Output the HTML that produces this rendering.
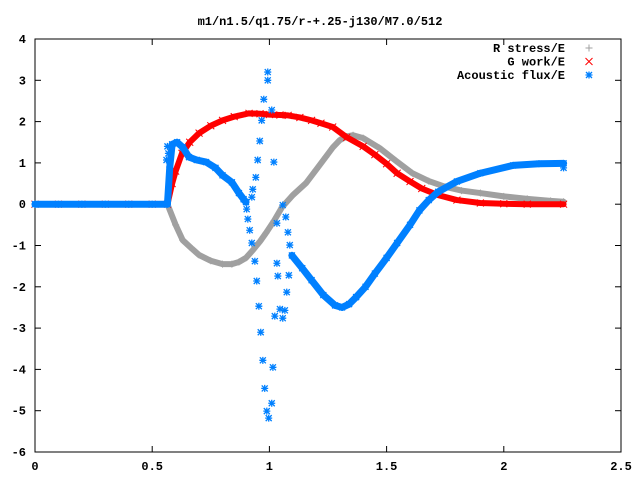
<!DOCTYPE html>
<html><head><meta charset="utf-8"><style>
html,body{margin:0;padding:0;background:#fff;}
svg{display:block;}
text{font-family:"Liberation Mono",monospace;font-weight:bold;font-size:12px;fill:#000;}
</style></head><body>
<svg id="chart" width="640" height="480" xmlns="http://www.w3.org/2000/svg">
<text x="320" y="25" text-anchor="middle">m1/n1.5/q1.75/r-+.25-j130/M7.0/512</text>
<g id="axes"></g>
<g id="series"></g>
<g id="legend"></g>
</svg>
<script>
const xTicks = [0, 0.5, 1, 1.5, 2, 2.5];
const xTickLabels = ["0", "0.5", "1", "1.5", "2", "2.5"];
const yTicks = [-6, -5, -4, -3, -2, -1, 0, 1, 2, 3, 4];
const yTickLabels = ["-6", "-5", "-4", "-3", "-2", "-1", "0", "1", "2", "3", "4"];

const rStressX = [0, 0.1, 0.2, 0.3, 0.4, 0.5, 0.565, 0.6, 0.63, 0.67, 0.7, 0.75, 0.8, 0.84, 0.87, 0.9, 0.93, 0.96, 0.985, 1.02, 1.054, 1.1, 1.156, 1.2, 1.24, 1.27, 1.3, 1.33, 1.357, 1.4, 1.47, 1.54, 1.61, 1.68, 1.75, 1.82, 1.9, 2.0, 2.1, 2.2, 2.255];
const rStressY = [0, 0, 0, 0, 0, 0, 0, -0.5, -0.87, -1.08, -1.23, -1.37, -1.45, -1.45, -1.4, -1.3, -1.11, -0.9, -0.7, -0.4, -0.07, 0.22, 0.51, 0.84, 1.14, 1.37, 1.55, 1.64, 1.67, 1.6, 1.36, 1.05, 0.75, 0.56, 0.42, 0.33, 0.27, 0.19, 0.13, 0.08, 0.06];

const gWorkX = [0, 0.1, 0.2, 0.3, 0.4, 0.5, 0.565, 0.585, 0.6, 0.627, 0.66, 0.7, 0.75, 0.8, 0.85, 0.913, 0.96, 1.0, 1.045, 1.08, 1.13, 1.18, 1.22, 1.27, 1.33, 1.4, 1.45, 1.5, 1.545, 1.6, 1.65, 1.72, 1.8, 1.9, 2.0, 2.1, 2.255];
const gWorkY = [0, 0, 0, 0, 0, 0, 0, 0.5, 0.8, 1.23, 1.5, 1.72, 1.9, 2.03, 2.12, 2.2, 2.19, 2.17, 2.16, 2.15, 2.1, 2.03, 1.96, 1.87, 1.62, 1.4, 1.2, 0.98, 0.75, 0.55, 0.38, 0.22, 0.1, 0.03, 0.01, 0.0, 0.0];

const fluxX = [0, 0.1, 0.2, 0.3, 0.4, 0.5, 0.565, 0.575, 0.585, 0.606, 0.63, 0.657, 0.69, 0.73, 0.77, 0.8, 0.84, 0.87, 0.89, 0.9];
const fluxY = [0, 0, 0, 0, 0, 0, 0, 0.9, 1.45, 1.5, 1.38, 1.14, 1.07, 1.02, 0.88, 0.7, 0.53, 0.27, 0.12, 0.05];
const fluxX2 = [1.096, 1.14, 1.18, 1.23, 1.28, 1.31, 1.34, 1.37, 1.41, 1.45, 1.5, 1.545, 1.6, 1.64, 1.68, 1.72, 1.8, 1.9, 2.04, 2.15, 2.255];
const fluxY2 = [-1.24, -1.55, -1.84, -2.2, -2.45, -2.5, -2.42, -2.25, -2.0, -1.68, -1.3, -0.94, -0.5, -0.15, 0.1, 0.3, 0.55, 0.75, 0.94, 0.98, 0.99];
const fluxScatterX = [0.993, 0.993, 0.976, 1.010, 0.967, 0.959, 0.950, 1.019, 0.942, 0.929, 0.925, 0.903, 0.908, 0.916, 0.925, 1.057, 1.070, 1.032, 1.079, 1.087, 0.938, 1.032, 0.946, 1.036, 1.083, 1.074, 0.955, 1.045, 1.066, 1.023, 1.057, 0.963, 0.972, 1.015, 0.980, 1.010, 0.989, 0.997, 0.565, 0.569, 0.561, 2.255];
const fluxScatterY = [3.20, 3.00, 2.54, 2.28, 2.03, 1.53, 1.07, 1.02, 0.65, 0.36, 0.17, -0.12, -0.36, -0.63, -0.94, -0.02, -0.31, -0.46, -0.68, -0.99, -1.38, -1.43, -1.86, -1.74, -1.72, -2.13, -2.47, -2.54, -2.57, -2.71, -2.76, -3.10, -3.78, -3.95, -4.46, -4.82, -5.01, -5.18, 1.40, 1.23, 1.07, 0.88];

const L = 35, R = 621, T = 39, B = 452;
const xMin = 0, xMax = 2.5, yMin = -6, yMax = 4;
const sx = v => L + (v - xMin) / (xMax - xMin) * (R - L);
const sy = v => B - (v - yMin) / (yMax - yMin) * (B - T);
const NS = "http://www.w3.org/2000/svg";
function mk(tag, parent, attrs) {
  const e = document.createElementNS(NS, tag);
  for (const k in attrs) e.setAttribute(k, attrs[k]);
  parent.appendChild(e);
  return e;
}
const axes = document.getElementById('axes');
const frame = mk('rect', axes, {x: L, y: T, width: R - L, height: B - T, fill: 'none', stroke: '#000', 'stroke-width': 1});


xTicks.forEach((v, i) => {
  const x = sx(v);
  const t1 = mk('line', axes, {x1: x, x2: x, y1: B, y2: B - 6, stroke: '#000'});
  
  
  const t2 = mk('line', axes, {x1: x, x2: x, y1: T, y2: T + 6, stroke: '#000'});
  
  
  const lb = mk('text', axes, {x: x, y: B + 18, 'text-anchor': 'middle'});
  lb.textContent = xTickLabels[i];
  
  
});
yTicks.forEach((v, i) => {
  const y = sy(v);
  const t1 = mk('line', axes, {x1: L, x2: L + 6, y1: y, y2: y, stroke: '#000'});
  
  
  const t2 = mk('line', axes, {x1: R, x2: R - 6, y1: y, y2: y, stroke: '#000'});
  
  
  const lb = mk('text', axes, {x: L - 9, y: y + 4, 'text-anchor': 'end'});
  lb.textContent = yTickLabels[i];
  
  
});

const series = document.getElementById('series');
function plus(g, x, y, c) {
  return mk('path', g, {d: `M${x-3.5},${y}h7M${x},${y-3.5}v7`, stroke: c, 'stroke-width': 1, fill: 'none'});
}
function cross(g, x, y, c) {
  return mk('path', g, {d: `M${x-3.5},${y-3.5}l7,7M${x-3.5},${y+3.5}l7,-7`, stroke: c, 'stroke-width': 1, fill: 'none'});
}
function star(g, x, y, c) {
  return mk('path', g, {d: `M${x-3.5},${y}h7M${x},${y-3.5}v7M${x-3},${y-3}l6,6M${x-3},${y+3}l6,-6`, stroke: c, 'stroke-width': 1.3, fill: 'none'});
}
function drawSeries(name, xs, ys, color, width, markerFn) {
  const g = mk('g', series, {});
  
  
  const pts = xs.map((v, i) => sx(v) + ',' + sy(ys[i])).join(' ');
  const pl = mk('polyline', g, {points: pts, fill: 'none', stroke: color, 'stroke-width': width, 'stroke-linejoin': 'round', 'stroke-linecap': 'round'});
  
  
  xs.forEach((v, i) => {
    const m = markerFn(g, sx(v), sy(ys[i]), color);
    
    
  });
  return g;
}
drawSeries('r-stress-series', rStressX, rStressY, '#a0a0a0', 6, plus);
drawSeries('g-work-series', gWorkX, gWorkY, '#ff0000', 6, cross);
drawSeries('acoustic-flux-series', fluxX, fluxY, '#0080ff', 7, star);
drawSeries('acoustic-flux-series-b', fluxX2, fluxY2, '#0080ff', 7, star);
const sg = mk('g', series, {});


fluxScatterX.forEach((v, i) => {
  const m = star(sg, sx(v), sy(fluxScatterY[i]), '#0080ff');
  
  
});

const legend = document.getElementById('legend');
const legendNames = ['R stress/E', 'G work/E', 'Acoustic flux/E'];
const legendColors = ['#a0a0a0', '#ff0000', '#0080ff'];
const legendMarkers = [plus, cross, star];
legendNames.forEach((n, i) => {
  const y = 48 + i * 13.5;
  const t = mk('text', legend, {x: 565, y: y + 4, 'text-anchor': 'end'});
  t.textContent = n;
  
  
  const m = legendMarkers[i](legend, 589, y, legendColors[i]);
  
  
});
</script>
</body></html>
